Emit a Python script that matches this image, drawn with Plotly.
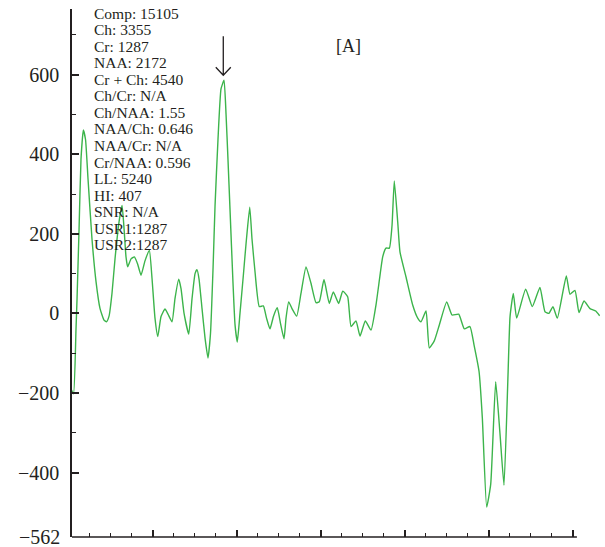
import plotly.graph_objects as go

# spectrum trace (x in axis units, major ticks every 10; y in signal units)
x_vals = [0.27, 0.57, 0.87, 0.99, 1.23, 1.46, 1.74, 2.00, 2.30, 2.77, 3.25, 3.73, 4.20, 4.50,
          4.80, 5.15, 5.51, 5.99, 6.35, 6.58, 6.82, 7.02, 7.42, 7.81, 8.19, 8.61, 9.08, 9.60,
          9.92, 10.27, 10.60, 10.99, 11.46, 11.82, 12.30, 12.65, 13.10, 13.37, 13.73, 14.29,
          14.68, 15.04, 15.27, 15.51, 15.87, 16.23, 16.58, 16.88, 17.18, 17.42, 17.77, 18.13,
          18.49, 18.73, 18.96, 19.20, 19.56, 19.80, 20.07, 20.39, 20.79, 21.11, 21.55, 21.82,
          22.18, 22.69, 23.17, 23.55, 23.96, 24.38, 24.83, 25.21, 25.63, 25.87, 26.19, 26.58,
          27.14, 27.65, 28.25, 28.85, 29.44, 29.83, 30.39, 31.02, 31.50, 32.14, 32.62, 33.21,
          33.61, 34.20, 34.68, 35.31, 35.99, 36.58, 36.98, 37.38, 37.77, 38.17, 38.49, 38.76,
          39.17, 39.44, 40.15, 40.95, 41.55, 41.94, 42.54, 42.93, 43.52, 44.12, 45.00, 45.63,
          46.43, 47.10, 47.77, 48.25, 48.85, 49.24, 49.76, 50.24, 50.83, 51.35, 51.82, 52.30,
          52.54, 52.93, 53.33, 54.40, 55.19, 56.10, 56.70, 57.17, 57.65, 58.17, 59.24, 59.68,
          60.27, 60.75, 61.35, 62.06, 62.74, 63.21]
y_vals = [-190, -202, -37, 37, 212, 387, 461, 437, 337, 187, 80, 12, -17, -21,
          -7, 50, 137, 230, 271, 215, 142, 117, 137, 142, 125, 96, 132, 158,
          87, -12, -58, -8, 11, -2, -21, 37, 86, 62, 0, -52,
          37, 100, 110, 87, 12, -62, -112, -50, 112, 271, 437, 564,
          586, 500, 387, 262, 75, -29, -72, 0, 96, 175, 267, 187,
          104, 17, 19, -12, -39, -7, 14, -25, -64, -12, 29, 12,
          -7, 50, 117, 75, 27, 29, 85, 25, 54, 25, 56, 42,
          -33, -19, -57, -19, -42, 21, 83, 142, 164, 164, 221, 333,
          229, 154, 92, 21, -12, -21, 6, -87, -69, -29, 29, -4,
          -2, -39, -33, -79, -146, -262, -487, -429, -172, -304, -432, -154,
          -8, 50, -12, 61, 17, 65, 4, 0, 17, -12, 94, 48,
          58, 2, 31, 12, 6, -6]

y_ticks = [-562, -400, -200, 0, 200, 400, 600]
y_ticktext = ["\u2212562", "\u2212400", "\u2212200", "0", "200", "400", "600"]
y_minor = [-300, -100, 100, 300, 500, 700]
x_major = [10, 20, 30, 40, 50, 60]
x_minor = [2.5, 5, 7.5, 12.5, 15, 17.5, 22.5, 25, 27.5, 32.5, 35, 37.5,
           42.5, 45, 47.5, 52.5, 55, 57.5]

info_lines = ["Comp: 15105", "Ch: 3355", "Cr: 1287", "NAA: 2172", "Cr + Ch: 4540",
              "Ch/Cr: N/A", "Ch/NAA: 1.55", "NAA/Ch: 0.646", "NAA/Cr: N/A",
              "Cr/NAA: 0.596", "LL: 5240", "HI: 407", "SNR: N/A", "USR1:1287", "USR2:1287"]
panel_label = "[A]"
peak_x, peak_y = 18.4, 586

X_MIN, X_MAX = 0.39, 63.25
Y_MIN, Y_MAX = -562, 765
AXIS_COLOR = "#231f20"
FONT = "Liberation Serif"
TICK_FONT = dict(family=FONT, size=20, color=AXIS_COLOR)

fig = go.Figure()
fig.add_trace(go.Scatter(x=x_vals, y=y_vals, mode="lines",
                         line=dict(color="#3cb44b", width=1.4, shape="spline", smoothing=0.45),
                         hoverinfo="skip"))

annotations = []
for i, t in enumerate(info_lines):
    annotations.append(dict(x=0.0375, y=1, xref="paper", yref="paper", text=t,
                            showarrow=False, xanchor="left", yanchor="middle",
                            yshift=-(4 + 16.57 * i),
                            font=dict(family=FONT, size=15.5, color=AXIS_COLOR)))
annotations.append(dict(x=0.523, y=1, xref="paper", yref="paper", text=panel_label,
                        showarrow=False, xanchor="center", yanchor="middle", yshift=-37,
                        font=dict(family=FONT, size=18, color=AXIS_COLOR)))
# bottom tick label sits on the figure edge, so draw it as an annotation
annotations.append(dict(x=0, y=y_ticks[0], xref="paper", yref="y", text=y_ticktext[0],
                        showarrow=False, xanchor="right", yanchor="middle", xshift=-10,
                        font=TICK_FONT))

shapes = [
    # x-axis line (ends at last major tick)
    dict(type="line", xref="x", yref="paper", x0=X_MIN, x1=60.5, y0=0, y1=0,
         line=dict(color=AXIS_COLOR, width=1.6)),
    # arrow pointing at the main peak
    dict(type="path", xref="x", yref="y", xsizemode="pixel", ysizemode="pixel",
         xanchor=peak_x, yanchor=peak_y,
         path="M 0 5 L 0 44 M -7.5 13 L 0 5 L 7.5 13",
         line=dict(color=AXIS_COLOR, width=1.3)),
]

fig.update_layout(
    width=605, height=547,
    margin=dict(l=72, r=5, t=9, b=10, autoexpand=False),
    paper_bgcolor="white", plot_bgcolor="white",
    showlegend=False,
    annotations=annotations,
    shapes=shapes,
    font=dict(family=FONT, size=18, color=AXIS_COLOR),
)
fig.update_xaxes(range=[X_MIN, X_MAX], showgrid=False, zeroline=False, showline=False,
                 automargin=False,
                 tickmode="array", tickvals=x_major, ticktext=["" for _ in x_major],
                 ticks="inside", ticklen=7, tickwidth=1.6, tickcolor=AXIS_COLOR,
                 minor=dict(tickmode="array", tickvals=x_minor, ticks="inside",
                            ticklen=4, tickwidth=1.4, tickcolor=AXIS_COLOR, showgrid=False))
fig.update_yaxes(range=[Y_MIN, Y_MAX], showgrid=False, zeroline=False, showline=True,
                 automargin=False,
                 linecolor=AXIS_COLOR, linewidth=1.6,
                 tickmode="array", tickvals=y_ticks[1:], ticktext=y_ticktext[1:],
                 ticks="inside", ticklen=7, tickwidth=1.6, tickcolor=AXIS_COLOR,
                 ticklabelstandoff=7,
                 tickfont=TICK_FONT,
                 minor=dict(tickmode="array", tickvals=y_minor, ticks="inside",
                            ticklen=4, tickwidth=1.4, tickcolor=AXIS_COLOR, showgrid=False))

fig.write_html("out.html", config={"displayModeBar": False},
               post_script="document.body.style.margin='0';document.body.style.overflow='hidden';")
